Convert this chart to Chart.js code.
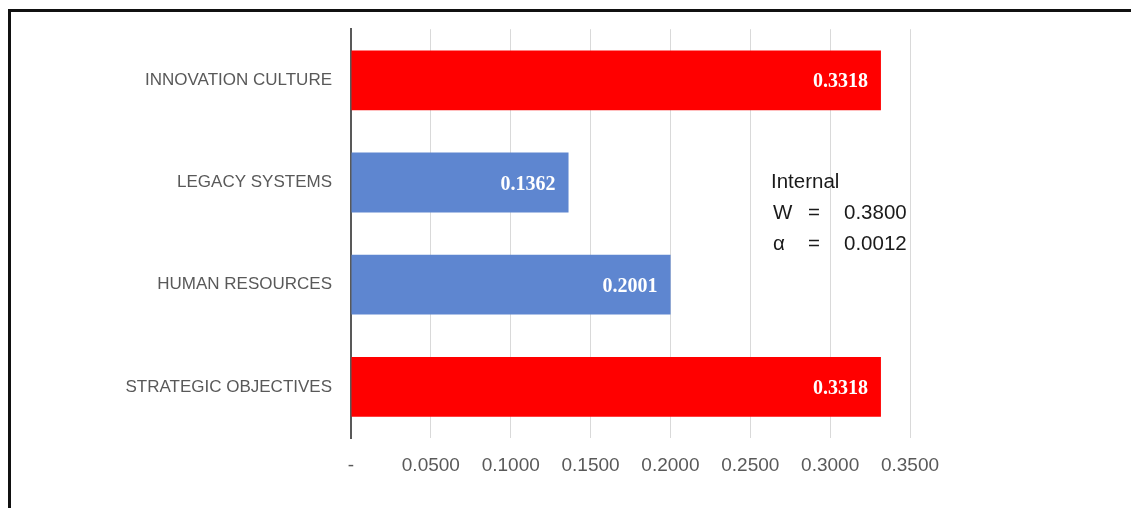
<!DOCTYPE html>
<html>
<head>
<meta charset="utf-8">
<script src="https://cdn.jsdelivr.net/npm/chart.js@4"></script>
<style>
  html, body { margin: 0; padding: 0; background: #fff; }
  #wrap { position: relative; width: 1131px; height: 508px; overflow: hidden; }
  #frame { position: absolute; left: 8px; top: 9px; width: 1200px; height: 600px;
           border-top: 3px solid #111; border-left: 3px solid #111; }
  #chart { position: absolute; left: 0; top: 0; }
  #note { position: absolute; left: 771px; top: 165px; font-family: "Liberation Sans", Arial, sans-serif;
          font-size: 20.5px; color: #1a1a1a; line-height: 31px; }
  #note span { position: absolute; white-space: nowrap; }
</style>
</head>
<body>
<div id="wrap">
  <div id="frame"></div>
  <canvas id="chart" width="1131" height="508"></canvas>
  <!-- weight / significance block -->
  <div id="note">
    <span style="left:0; top:0;">Internal</span>
    <span style="left:2px; top:31px;">W</span>
    <span style="left:37px; top:31px;">=</span>
    <span style="left:73px; top:31px;">0.3800</span>
    <span style="left:2px; top:62px;">α</span>
    <span style="left:37px; top:62px;">=</span>
    <span style="left:73px; top:62px;">0.0012</span>
  </div>
</div>
<script>
// categories top to bottom
const categories = ["INNOVATION CULTURE", "LEGACY SYSTEMS", "HUMAN RESOURCES", "STRATEGIC OBJECTIVES"];
const scores = [0.3318, 0.1362, 0.2001, 0.3318];
const barColors = ["#FF0000", "#5E86D0", "#5E86D0", "#FF0000"];
const axisMax = 0.35;
const axisStep = 0.05;

// white value text near the end of each bar
const valueLabels = {
  id: "valueLabels",
  afterDatasetsDraw(chart) {
    const ctx = chart.ctx;
    const meta = chart.getDatasetMeta(0);
    ctx.save();
    ctx.font = "bold 20px 'Liberation Serif', 'DejaVu Serif', serif";
    ctx.fillStyle = "#ffffff";
    ctx.textAlign = "right";
    ctx.textBaseline = "middle";
    meta.data.forEach((bar, i) => {
      ctx.fillText(scores[i].toFixed(4), bar.x - 13, bar.y + 2);
    });
    ctx.restore();
  }
};

new Chart(document.getElementById("chart"), {
  type: "bar",
  data: {
    labels: categories,
    datasets: [{
      data: scores,
      backgroundColor: barColors,
      borderWidth: 0,
      barPercentage: 0.585,
      categoryPercentage: 1.0
    }]
  },
  options: {
    indexAxis: "y",
    responsive: false,
    animation: false,
    layout: { padding: { top: 28, right: 221, left: 0, bottom: 0 } },
    plugins: { legend: { display: false }, tooltip: { enabled: false } },
    scales: {
      x: {
        min: 0,
        max: axisMax,
        afterFit(scale) { scale.height = 70; },
        ticks: {
          stepSize: axisStep,
          color: "#595959",
          font: { family: "'Liberation Sans', Arial, sans-serif", size: 19 },
          padding: 16,
          callback: v => (v === 0 ? "-" : Number(v).toFixed(4))
        },
        grid: { color: "#d9d9d9", lineWidth: 1, drawTicks: false },
        border: { display: false }
      },
      y: {
        afterFit(scale) { scale.width = 351; },
        ticks: {
          color: "#595959",
          font: { family: "'Liberation Sans', Arial, sans-serif", size: 17 },
          padding: 19
        },
        grid: { display: false, drawTicks: false },
        border: { display: true, color: "#595959", width: 2 }
      }
    }
  },
  plugins: [valueLabels]
});
</script>
</body>
</html>
